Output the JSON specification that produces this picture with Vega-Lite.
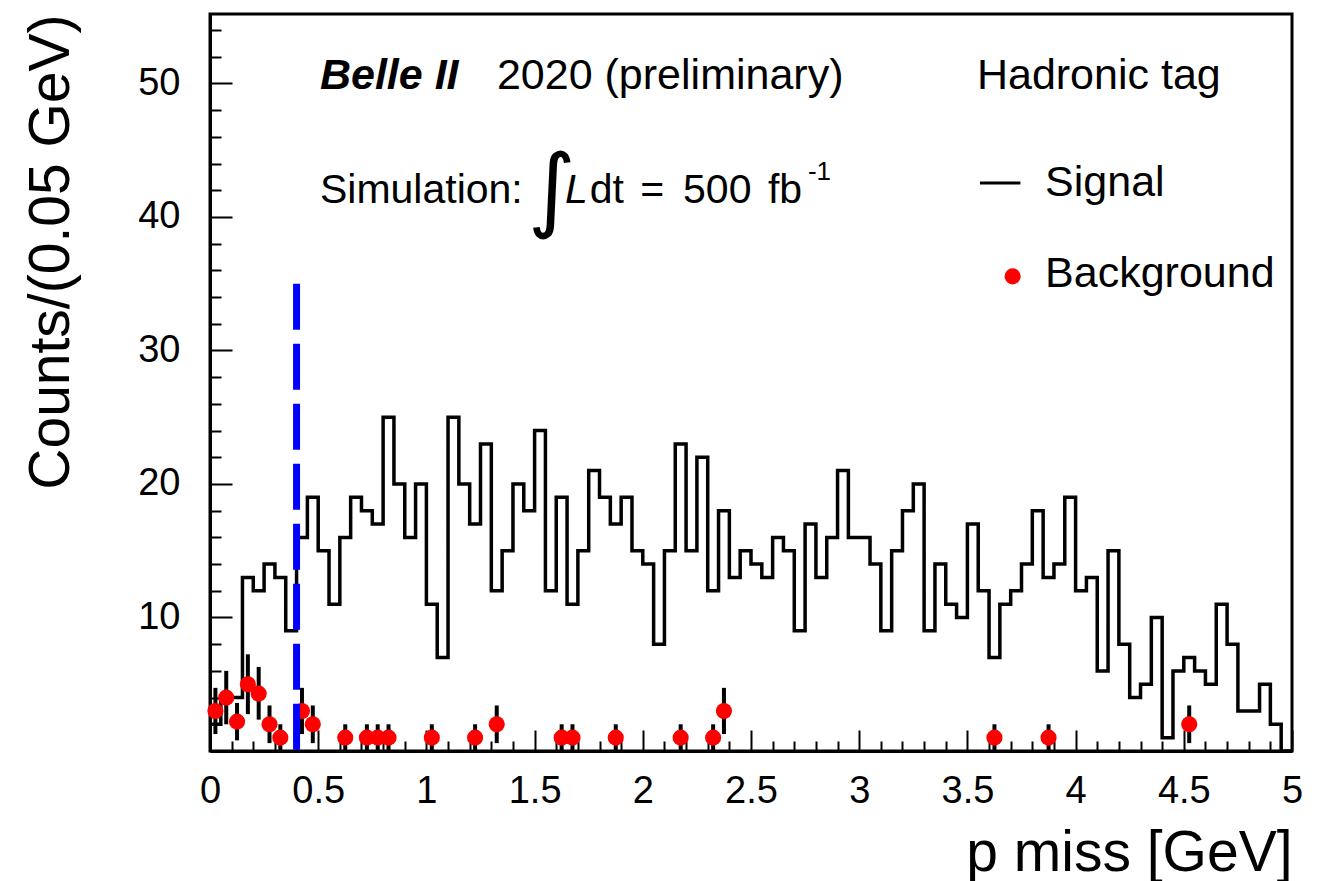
{
  "$schema": "https://vega.github.io/schema/vega-lite/v6.json",
  "width": 1082,
  "height": 737,
  "autosize": {"type": "none"},
  "padding": {"left": 210, "top": 14, "right": 28, "bottom": 130},
  "background": "white",
  "config": {"view": {"stroke": "black", "strokeWidth": 3}, "font": "Liberation Sans"},
  "resolve": {"axis": {"x": "independent", "y": "independent"}},
  "datasets": {
    "signal": [
      {"p": 0, "count": 2}, {"p": 0.05, "count": 4}, {"p": 0.1, "count": 4}, {"p": 0.15, "count": 13}, {"p": 0.2, "count": 12},
      {"p": 0.25, "count": 14}, {"p": 0.3, "count": 13}, {"p": 0.35, "count": 9}, {"p": 0.4, "count": 16}, {"p": 0.45, "count": 19},
      {"p": 0.5, "count": 15}, {"p": 0.55, "count": 11}, {"p": 0.6, "count": 16}, {"p": 0.65, "count": 19}, {"p": 0.7, "count": 18},
      {"p": 0.75, "count": 17}, {"p": 0.8, "count": 25}, {"p": 0.85, "count": 20}, {"p": 0.9, "count": 16}, {"p": 0.95, "count": 20},
      {"p": 1.0, "count": 11}, {"p": 1.05, "count": 7}, {"p": 1.1, "count": 25}, {"p": 1.15, "count": 20}, {"p": 1.2, "count": 17},
      {"p": 1.25, "count": 23}, {"p": 1.3, "count": 12}, {"p": 1.35, "count": 15}, {"p": 1.4, "count": 20}, {"p": 1.45, "count": 18},
      {"p": 1.5, "count": 24}, {"p": 1.55, "count": 12}, {"p": 1.6, "count": 19}, {"p": 1.65, "count": 11}, {"p": 1.7, "count": 15},
      {"p": 1.75, "count": 21}, {"p": 1.8, "count": 19}, {"p": 1.85, "count": 17}, {"p": 1.9, "count": 19}, {"p": 1.95, "count": 15},
      {"p": 2.0, "count": 14}, {"p": 2.05, "count": 8}, {"p": 2.1, "count": 15}, {"p": 2.15, "count": 23}, {"p": 2.2, "count": 15},
      {"p": 2.25, "count": 22}, {"p": 2.3, "count": 12}, {"p": 2.35, "count": 18}, {"p": 2.4, "count": 13}, {"p": 2.45, "count": 15},
      {"p": 2.5, "count": 14}, {"p": 2.55, "count": 13}, {"p": 2.6, "count": 16}, {"p": 2.65, "count": 15}, {"p": 2.7, "count": 9},
      {"p": 2.75, "count": 17}, {"p": 2.8, "count": 13}, {"p": 2.85, "count": 16}, {"p": 2.9, "count": 21}, {"p": 2.95, "count": 16},
      {"p": 3.0, "count": 16}, {"p": 3.05, "count": 14}, {"p": 3.1, "count": 9}, {"p": 3.15, "count": 15}, {"p": 3.2, "count": 18},
      {"p": 3.25, "count": 20}, {"p": 3.3, "count": 9}, {"p": 3.35, "count": 14}, {"p": 3.4, "count": 11}, {"p": 3.45, "count": 10},
      {"p": 3.5, "count": 17}, {"p": 3.55, "count": 12}, {"p": 3.6, "count": 7}, {"p": 3.65, "count": 11}, {"p": 3.7, "count": 12},
      {"p": 3.75, "count": 14}, {"p": 3.8, "count": 18}, {"p": 3.85, "count": 13}, {"p": 3.9, "count": 14}, {"p": 3.95, "count": 19},
      {"p": 4.0, "count": 12}, {"p": 4.05, "count": 13}, {"p": 4.1, "count": 6}, {"p": 4.15, "count": 15}, {"p": 4.2, "count": 8},
      {"p": 4.25, "count": 4}, {"p": 4.3, "count": 5}, {"p": 4.35, "count": 10}, {"p": 4.4, "count": 1}, {"p": 4.45, "count": 6},
      {"p": 4.5, "count": 7}, {"p": 4.55, "count": 6}, {"p": 4.6, "count": 5}, {"p": 4.65, "count": 11}, {"p": 4.7, "count": 8},
      {"p": 4.75, "count": 3}, {"p": 4.8, "count": 3}, {"p": 4.85, "count": 5}, {"p": 4.9, "count": 2}, {"p": 4.95, "count": 0},
      {"p": 5.0, "count": 0}
    ],
    "background": [
      {"p": 0.025, "n": 3, "lo": 1.27, "hi": 4.73},
      {"p": 0.075, "n": 4, "lo": 2, "hi": 6},
      {"p": 0.125, "n": 2.2, "lo": 0.8, "hi": 3.6},
      {"p": 0.175, "n": 5, "lo": 2.76, "hi": 7.24},
      {"p": 0.225, "n": 4.3, "lo": 2.35, "hi": 6.3},
      {"p": 0.275, "n": 2, "lo": 0.59, "hi": 3.41},
      {"p": 0.325, "n": 1, "lo": 0, "hi": 2},
      {"p": 0.425, "n": 3, "lo": 1.27, "hi": 4.73},
      {"p": 0.475, "n": 2, "lo": 0.59, "hi": 3.41},
      {"p": 0.625, "n": 1, "lo": 0, "hi": 2},
      {"p": 0.725, "n": 1, "lo": 0, "hi": 2},
      {"p": 0.775, "n": 1, "lo": 0, "hi": 2},
      {"p": 0.825, "n": 1, "lo": 0, "hi": 2},
      {"p": 1.025, "n": 1, "lo": 0, "hi": 2},
      {"p": 1.225, "n": 1, "lo": 0, "hi": 2},
      {"p": 1.325, "n": 2, "lo": 0.59, "hi": 3.41},
      {"p": 1.625, "n": 1, "lo": 0, "hi": 2},
      {"p": 1.675, "n": 1, "lo": 0, "hi": 2},
      {"p": 1.875, "n": 1, "lo": 0, "hi": 2},
      {"p": 2.175, "n": 1, "lo": 0, "hi": 2},
      {"p": 2.325, "n": 1, "lo": 0, "hi": 2},
      {"p": 2.375, "n": 3, "lo": 1.27, "hi": 4.73},
      {"p": 3.625, "n": 1, "lo": 0, "hi": 2},
      {"p": 3.875, "n": 1, "lo": 0, "hi": 2},
      {"p": 4.525, "n": 2, "lo": 0.59, "hi": 3.41}
    ],
    "cut": [{"p": 0.4, "top": 35, "bottom": 0}],
    "headText": [
      {"text": "2020 (preliminary)", "x": 1.326, "y": 49.55},
      {"text": "Hadronic tag", "x": 3.544, "y": 49.55},
      {"text": "Signal", "x": 3.859, "y": 41.6},
      {"text": "Background", "x": 3.859, "y": 34.73}
    ],
    "simText": [
      {"text": "Simulation:", "x": 0.508, "y": 41.02},
      {"text": "dt", "x": 1.755, "y": 41.02},
      {"text": "=", "x": 1.988, "y": 41.02},
      {"text": "500", "x": 2.186, "y": 41.02},
      {"text": "fb", "x": 2.578, "y": 41.02}
    ]
  },
  "layer": [
    {
      "data": {"name": "signal"},
      "mark": {"type": "line", "interpolate": "step-after", "color": "black", "strokeWidth": 3.5},
      "encoding": {
        "x": {
          "field": "p", "type": "quantitative",
          "scale": {"domain": [0, 5], "nice": false, "zero": false},
          "axis": {
            "title": "p miss [GeV]",
            "orient": "bottom",
            "grid": false,
            "values": [0, 0.1, 0.2, 0.3, 0.4, 0.5, 0.6, 0.7, 0.8, 0.9, 1, 1.1, 1.2, 1.3, 1.4, 1.5, 1.6, 1.7, 1.8, 1.9, 2, 2.1, 2.2, 2.3, 2.4, 2.5, 2.6, 2.7, 2.8, 2.9, 3, 3.1, 3.2, 3.3, 3.4, 3.5, 3.6, 3.7, 3.8, 3.9, 4, 4.1, 4.2, 4.3, 4.4, 4.5, 4.6, 4.7, 4.8, 4.9, 5],
            "tickSize": {"condition": {"test": "abs(datum.value*2 - round(datum.value*2)) < 0.001", "value": -21}, "value": -10},
            "tickWidth": 2, "tickColor": "black",
            "labelExpr": "abs(datum.value*2 - round(datum.value*2)) < 0.001 ? toString(round(datum.value*2)/2) : ''",
            "labelFont": "Liberation Sans", "labelFontSize": 38, "labelColor": "black",
            "labelBaseline": "alphabetic", "labelPadding": 72,
            "labelOverlap": false, "labelFlush": false, "labelBound": false,
            "domainColor": "black", "domainWidth": 3,
            "titleFont": "Liberation Sans", "titleFontSize": 57, "titleFontWeight": "normal", "titleColor": "black",
            "titleX": 1082, "titleY": 119, "titleAlign": "right", "titleBaseline": "alphabetic"
          }
        },
        "y": {
          "field": "count", "type": "quantitative",
          "scale": {"domain": [0, 55.2], "nice": false, "zero": false},
          "axis": {
            "title": "Counts/(0.05 GeV)",
            "orient": "left",
            "grid": false,
            "values": [0, 2, 4, 6, 8, 10, 12, 14, 16, 18, 20, 22, 24, 26, 28, 30, 32, 34, 36, 38, 40, 42, 44, 46, 48, 50, 52, 54],
            "tickSize": {"condition": {"test": "datum.value % 10 === 0", "value": -22}, "value": -11},
            "tickWidth": 2, "tickColor": "black",
            "labelExpr": "datum.value % 10 === 0 && datum.value > 0 ? toString(datum.value) : ''",
            "labelFont": "Liberation Sans", "labelFontSize": 38, "labelColor": "black",
            "labelBaseline": "middle", "labelPadding": 52,
            "labelOverlap": false, "labelFlush": false, "labelBound": false,
            "domainColor": "black", "domainWidth": 3,
            "titleFont": "Liberation Sans", "titleFontSize": 57, "titleFontWeight": "normal", "titleColor": "black",
            "titleAngle": -90, "titleX": -142, "titleY": 0, "titleAlign": "right", "titleBaseline": "alphabetic"
          }
        }
      }
    },
    {
      "data": {"name": "background"},
      "mark": {"type": "rule", "color": "black", "strokeWidth": 4},
      "encoding": {
        "x": {"field": "p", "type": "quantitative", "axis": null},
        "y": {"field": "lo", "type": "quantitative", "axis": null},
        "y2": {"field": "hi"}
      }
    },
    {
      "data": {"name": "background"},
      "mark": {"type": "circle", "color": "#ff0000", "opacity": 1, "size": 260},
      "encoding": {
        "x": {"field": "p", "type": "quantitative", "axis": null},
        "y": {"field": "n", "type": "quantitative", "axis": null}
      }
    },
    {
      "data": {"name": "cut"},
      "mark": {"type": "rule", "color": "#0000ff", "strokeWidth": 7, "strokeDash": [46, 14]},
      "encoding": {
        "x": {"field": "p", "type": "quantitative", "axis": null},
        "y": {"field": "top", "type": "quantitative", "axis": null},
        "y2": {"field": "bottom"}
      }
    },
    {
      "data": {"name": "headText"},
      "mark": {"type": "text", "align": "left", "baseline": "alphabetic", "font": "Liberation Sans", "fontSize": 43, "color": "black"},
      "encoding": {
        "x": {"field": "x", "type": "quantitative", "axis": null},
        "y": {"field": "y", "type": "quantitative", "axis": null},
        "text": {"field": "text"}
      }
    },
    {
      "data": {"name": "simText"},
      "mark": {"type": "text", "align": "left", "baseline": "alphabetic", "font": "Liberation Sans", "fontSize": 41, "color": "black"},
      "encoding": {
        "x": {"field": "x", "type": "quantitative", "axis": null},
        "y": {"field": "y", "type": "quantitative", "axis": null},
        "text": {"field": "text"}
      }
    },
    {
      "data": {"values": [{"text": "Belle II", "x": 0.508, "y": 49.55}]},
      "mark": {"type": "text", "align": "left", "baseline": "alphabetic", "font": "Liberation Sans", "fontSize": 43, "fontWeight": "bold", "fontStyle": "italic", "color": "black"},
      "encoding": {
        "x": {"field": "x", "type": "quantitative", "axis": null},
        "y": {"field": "y", "type": "quantitative", "axis": null},
        "text": {"field": "text"}
      }
    },
    {
      "data": {"values": [{"text": "L", "x": 1.641, "y": 41.02}]},
      "mark": {"type": "text", "align": "left", "baseline": "alphabetic", "font": "Liberation Sans", "fontSize": 41, "fontStyle": "italic", "color": "black"},
      "encoding": {
        "x": {"field": "x", "type": "quantitative", "axis": null},
        "y": {"field": "y", "type": "quantitative", "axis": null},
        "text": {"field": "text"}
      }
    },
    {
      "data": {"values": [{"text": "∫", "x": 1.47, "y": 39.75}]},
      "mark": {"type": "text", "align": "left", "baseline": "alphabetic", "font": "DejaVu Sans", "fontSize": 92, "color": "black"},
      "encoding": {
        "x": {"field": "x", "type": "quantitative", "axis": null},
        "y": {"field": "y", "type": "quantitative", "axis": null},
        "text": {"field": "text"}
      }
    },
    {
      "data": {"values": [{"text": "-1", "x": 2.763, "y": 42.74}]},
      "mark": {"type": "text", "align": "left", "baseline": "alphabetic", "font": "Liberation Sans", "fontSize": 26, "color": "black"},
      "encoding": {
        "x": {"field": "x", "type": "quantitative", "axis": null},
        "y": {"field": "y", "type": "quantitative", "axis": null},
        "text": {"field": "text"}
      }
    },
    {
      "data": {"values": [{"x": 3.558, "x2": 3.745, "y": 42.54}]},
      "mark": {"type": "rule", "color": "black", "strokeWidth": 3},
      "encoding": {
        "x": {"field": "x", "type": "quantitative", "axis": null},
        "x2": {"field": "x2"},
        "y": {"field": "y", "type": "quantitative", "axis": null}
      }
    },
    {
      "data": {"values": [{"x": 3.709, "y": 35.55}]},
      "mark": {"type": "circle", "color": "#ff0000", "opacity": 1, "size": 260},
      "encoding": {
        "x": {"field": "x", "type": "quantitative", "axis": null},
        "y": {"field": "y", "type": "quantitative", "axis": null}
      }
    }
  ]
}
